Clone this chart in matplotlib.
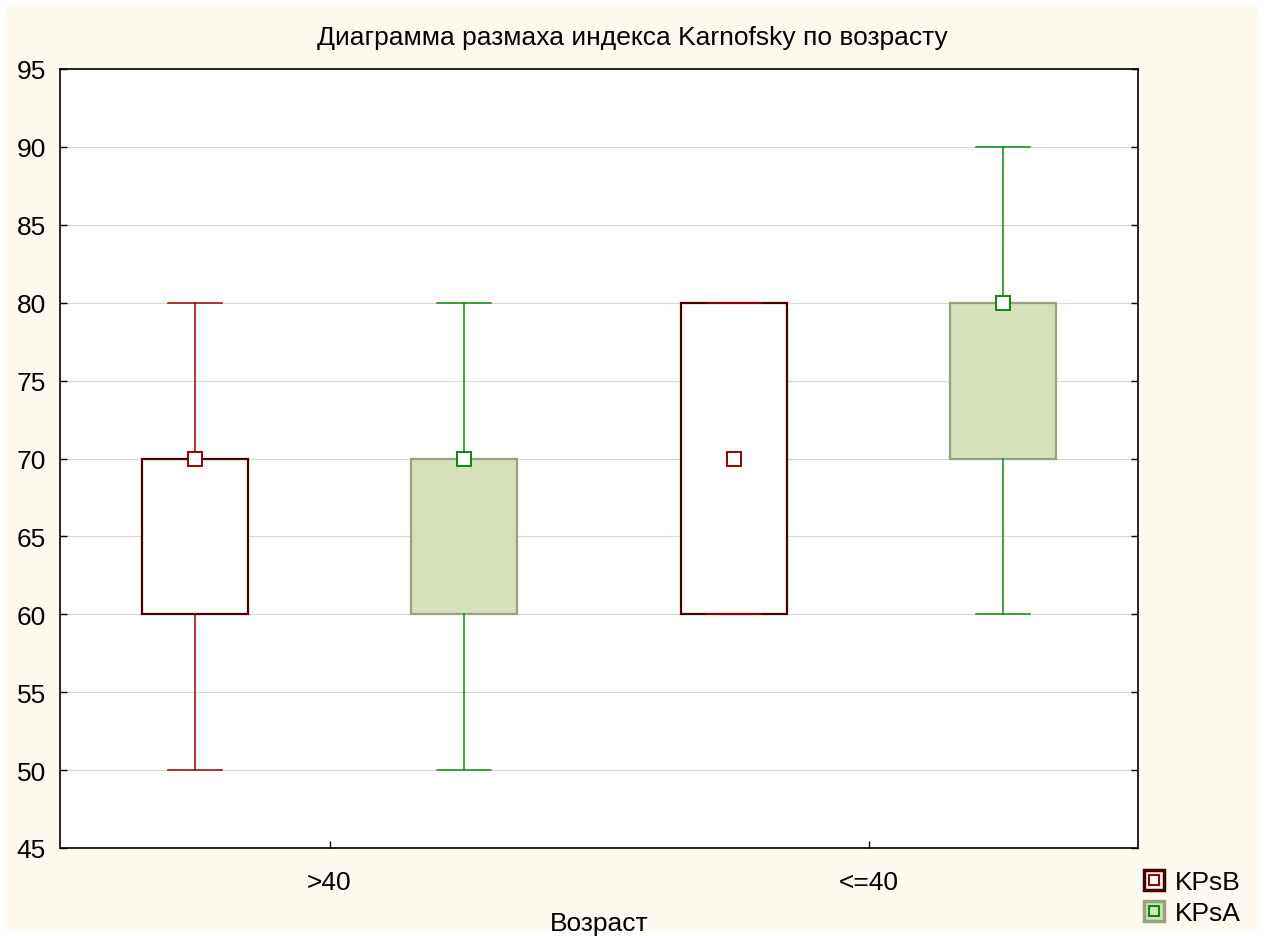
import matplotlib
matplotlib.use("Agg")
import matplotlib.pyplot as plt
from matplotlib.patches import Rectangle
from matplotlib.lines import Line2D

plt.rcParams['font.family'] = ['Liberation Sans', 'DejaVu Sans']

# Karnofsky index by age group: box statistics per series
groups = [">40", "<=40"]
series = ["KPsB", "KPsA"]
medians = {"KPsB": [70, 70], "KPsA": [70, 80]}
q1 = {"KPsB": [60, 60], "KPsA": [60, 70]}
q3 = {"KPsB": [70, 80], "KPsA": [70, 80]}
whis_lo = {"KPsB": [50, 60], "KPsA": [50, 60]}
whis_hi = {"KPsB": [80, 80], "KPsA": [80, 90]}
yticks = [45, 50, 55, 60, 65, 70, 75, 80, 85, 90, 95]

styles = {
    "KPsB": dict(face="#FFFFFF", edge="#4A0000", line="#9B0000", offset=-0.25),
    "KPsA": dict(face="#D6E1BC", edge="#97A37A", line="#0A8A0A", offset=0.25),
}

FS = 19

fig = plt.figure(figsize=(12.65, 9.37), dpi=100)
fig.patch.set_facecolor("white")
W, H = 1265, 937
fig.patches.append(Rectangle((7 / W, 1 - 932 / H), (1257 - 7) / W, (932 - 5) / H,
                             transform=fig.transFigure, facecolor="#FEFAF0",
                             edgecolor="none", zorder=-10))

ax = fig.add_axes([60 / W, 1 - 849 / H, (1138 - 60) / W, (849 - 70) / H])
ax.set_facecolor("white")

for s in series:
    st = styles[s]
    stats = []
    for i in range(len(groups)):
        stats.append(dict(med=medians[s][i], q1=q1[s][i], q3=q3[s][i],
                          whislo=whis_lo[s][i], whishi=whis_hi[s][i], fliers=[]))
    pos = [i + st["offset"] for i in range(len(groups))]
    ax.bxp(stats, positions=pos, widths=0.197, patch_artist=True,
           showfliers=False, manage_ticks=False,
           boxprops=dict(facecolor=st["face"], edgecolor=st["edge"], linewidth=1.6),
           whiskerprops=dict(color=st["line"], linewidth=1.1),
           capprops=dict(color=st["line"], linewidth=1.1),
           capwidths=0.1,
           medianprops=dict(visible=False), zorder=3)
    ax.plot(pos, medians[s], linestyle="none", marker="s", markersize=9.5,
            markerfacecolor="white", markeredgecolor=st["line"],
            markeredgewidth=1.4, zorder=5)

ax.set_xlim(-0.5, 1.5)
ax.set_ylim(45, 95)
ax.set_yticks(yticks)
ax.set_xticks(range(len(groups)))
ax.set_xticklabels(groups)
ax.yaxis.grid(True, color="#D8D8D8", linewidth=0.8, zorder=0)
ax.set_axisbelow(True)
ax.tick_params(axis="both", direction="in", length=5, width=1, labelsize=FS,
               colors="black")
ax.tick_params(axis="y", right=True, pad=10)
ax.tick_params(axis="x", pad=16)
for sp in ax.spines.values():
    sp.set_linewidth(1.2)
    sp.set_color("black")

fig.text(0.5, 1 - 38 / H, "Диаграмма размаха индекса Karnofsky по возрасту",
         fontsize=FS, ha="center", va="center")
ax.set_xlabel("Возраст", fontsize=FS, labelpad=12)

handles = []
for s in series:
    st = styles[s]
    outer = Line2D([], [], linestyle="none", marker="s", markersize=14,
                   markerfacecolor=st["face"], markeredgecolor=st["edge"], markeredgewidth=2.5)
    inner = Line2D([], [], linestyle="none", marker="s", markersize=7.5,
                   markerfacecolor=st["face"], markeredgecolor=st["line"], markeredgewidth=1.5)
    handles.append((outer, inner))
fig.legend(handles, series, loc="upper left", bbox_to_anchor=(1143 / W, 1 - 871 / H),
           frameon=False, fontsize=FS, handlelength=0.8, handletextpad=0.4,
           labelspacing=0.28, borderaxespad=0, borderpad=0)

fig.savefig("out.png", dpi=100, facecolor=fig.get_facecolor())
